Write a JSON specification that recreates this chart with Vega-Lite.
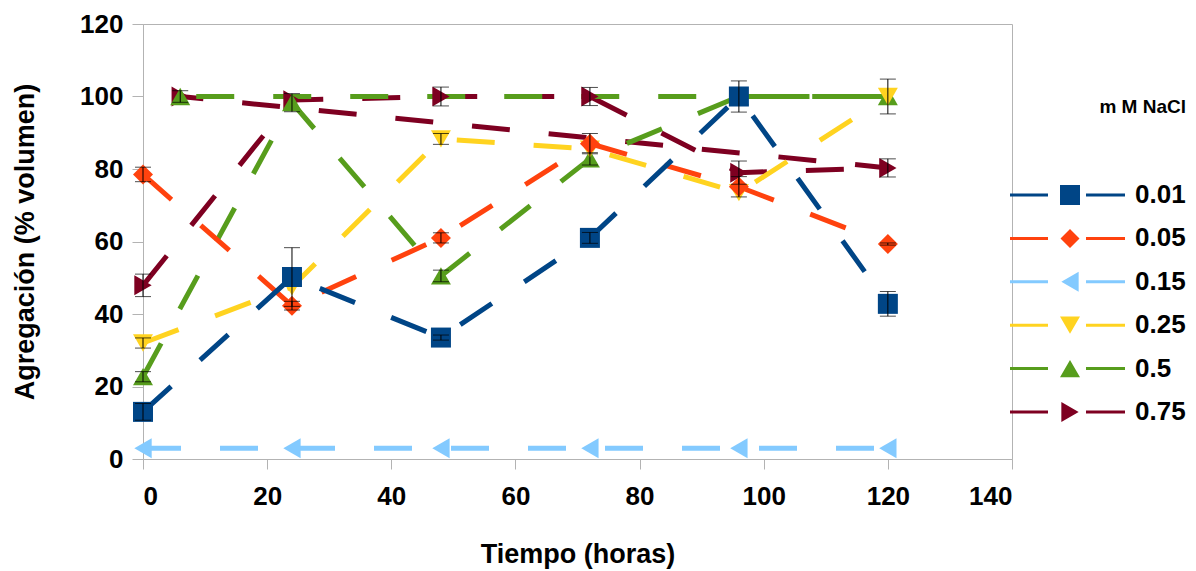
{
  "$schema": "https://vega.github.io/schema/vega-lite/v6.json",
  "autosize": "none",
  "width": 869,
  "height": 435,
  "padding": {"left": 143, "top": 24, "right": 184, "bottom": 112},
  "background": "white",
  "config": {
    "font": "Liberation Sans",
    "view": {"stroke": "#b3b3b3", "strokeWidth": 1},
    "axis": {
      "grid": false,
      "domainColor": "#b3b3b3",
      "tickColor": "#b3b3b3",
      "tickSize": 10,
      "labelFont": "Liberation Sans",
      "labelFontWeight": "bold",
      "labelFontSize": 26,
      "labelColor": "black",
      "titleFont": "Liberation Sans",
      "titleFontWeight": "bold",
      "titleFontSize": 27,
      "titleColor": "black"
    },
    "legend": {
      "orient": "none",
      "legendX": 914,
      "legendY": 74,
      "padding": 0,
      "titleFont": "Liberation Sans",
      "titleFontSize": 19,
      "titleFontWeight": "bold",
      "titleColor": "black",
      "titleAnchor": "end",
      "titlePadding": 65,
      "labelFont": "Liberation Sans",
      "labelFontSize": 26,
      "labelFontWeight": "bold",
      "labelColor": "black",
      "labelOffset": 52,
      "symbolSize": 400,
      "symbolStrokeWidth": 0,
      "symbolOpacity": 1,
      "rowPadding": 17.4
    }
  },
  "data": {
    "values": [
      {"series": "0.75", "t": 0, "v": 47.9, "err": 3.1, "seq": 1},
      {"series": "0.75", "t": 24, "v": 99, "err": null, "seq": 2},
      {"series": "0.75", "t": 48, "v": 100, "err": 2.6, "seq": 3},
      {"series": "0.75", "t": 72, "v": 100, "err": 2.5, "seq": 4},
      {"series": "0.75", "t": 96, "v": 79, "err": 3.2, "seq": 5},
      {"series": "0.75", "t": 120, "v": 80.3, "err": 2.5, "seq": 6},
      {"series": "0.75", "t": 6, "v": 100, "err": null, "seq": 7},
      {"series": "0.5", "t": 0, "v": 22.7, "err": 1.4, "seq": 1},
      {"series": "0.5", "t": 24, "v": 98.3, "err": 2.5, "seq": 2},
      {"series": "0.5", "t": 48, "v": 50.5, "err": 1.6, "seq": 3},
      {"series": "0.5", "t": 72, "v": 82.8, "err": 1.7, "seq": 4},
      {"series": "0.5", "t": 96, "v": 100, "err": null, "seq": 5},
      {"series": "0.5", "t": 120, "v": 100, "err": null, "seq": 6},
      {"series": "0.5", "t": 6, "v": 100, "err": 1.6, "seq": 7},
      {"series": "0.25", "t": 0, "v": 32, "err": 1.4, "seq": 1},
      {"series": "0.25", "t": 24, "v": 47.5, "err": null, "seq": 2},
      {"series": "0.25", "t": 48, "v": 88.3, "err": 1.5, "seq": 3},
      {"series": "0.25", "t": 72, "v": 85.5, "err": null, "seq": 4},
      {"series": "0.25", "t": 96, "v": 73.5, "err": null, "seq": 5},
      {"series": "0.25", "t": 120, "v": 100, "err": 4.8, "seq": 6},
      {"series": "0.15", "t": 0, "v": 3, "err": null, "seq": 1},
      {"series": "0.15", "t": 24, "v": 3, "err": null, "seq": 2},
      {"series": "0.15", "t": 48, "v": 3, "err": null, "seq": 3},
      {"series": "0.15", "t": 72, "v": 3, "err": null, "seq": 4},
      {"series": "0.15", "t": 96, "v": 3, "err": null, "seq": 5},
      {"series": "0.15", "t": 120, "v": 3, "err": null, "seq": 6},
      {"series": "0.05", "t": 0, "v": 78.5, "err": 2, "seq": 1},
      {"series": "0.05", "t": 24, "v": 42.3, "err": 1.2, "seq": 2},
      {"series": "0.05", "t": 48, "v": 61, "err": 1.4, "seq": 3},
      {"series": "0.05", "t": 72, "v": 87, "err": 2.8, "seq": 4},
      {"series": "0.05", "t": 96, "v": 75.1, "err": 2.8, "seq": 5},
      {"series": "0.05", "t": 120, "v": 59.3, "err": 0.3, "seq": 6},
      {"series": "0.01", "t": 0, "v": 13, "err": 2.3, "seq": 1},
      {"series": "0.01", "t": 24, "v": 50.2, "err": 8.1, "seq": 2},
      {"series": "0.01", "t": 48, "v": 33.5, "err": 0.7, "seq": 3},
      {"series": "0.01", "t": 72, "v": 61, "err": 1.5, "seq": 4},
      {"series": "0.01", "t": 96, "v": 100, "err": 4.3, "seq": 5},
      {"series": "0.01", "t": 120, "v": 42.8, "err": 3.4, "seq": 6}
    ]
  },
  "encoding": {
    "x": {
      "field": "t", "type": "quantitative",
      "scale": {"domain": [0, 140], "nice": false, "zero": false},
      "axis": {"values": [0, 20, 40, 60, 80, 100, 120, 140], "title": "Tiempo (horas)", "labelPadding": 14, "titlePadding": 32}
    },
    "y": {
      "field": "v", "type": "quantitative",
      "scale": {"domain": [0, 120], "nice": false},
      "axis": {"values": [0, 20, 40, 60, 80, 100, 120], "title": "Agregación (% volumen)", "tickSize": 11, "labelPadding": 9, "titlePadding": 40}
    }
  },
  "layer": [
    {
      "mark": {"type": "line", "strokeWidth": 5, "strokeDash": [38, 39], "strokeCap": "butt", "strokeJoin": "miter"},
      "encoding": {
        "color": {
          "field": "series", "type": "nominal",
          "scale": {"domain": ["0.01", "0.05", "0.15", "0.25", "0.5", "0.75"], "range": ["#004586", "#ff420e", "#83caff", "#ffd320", "#579d1c", "#7e0021"]},
          "legend": null
        },
        "order": {"field": "seq", "type": "quantitative"}
      }
    },
    {
      "mark": {"type": "point", "filled": true, "opacity": 1, "size": 400, "strokeWidth": 0},
      "encoding": {
        "color": {"field": "series", "type": "nominal", "legend": null},
        "shape": {
          "field": "series", "type": "nominal",
          "scale": {"domain": ["0.01", "0.05", "0.15", "0.25", "0.5", "0.75"], "range": ["square", "diamond", "triangle-left", "triangle-down", "triangle-up", "triangle-right"]},
          "legend": null
        }
      }
    },
    {
      "transform": [{"filter": "isValid(datum.err)"}],
      "mark": {"type": "errorbar", "color": "black", "thickness": 1, "ticks": {"size": 16, "color": "black", "thickness": 1}},
      "encoding": {
        "yError": {"field": "err"}
      }
    },
    {
      "transform": [{"filter": "false"}],
      "mark": {"type": "point", "filled": true, "opacity": 1, "size": 400, "strokeWidth": 0},
      "encoding": {
        "color": {
          "field": "series", "type": "nominal",
          "legend": {"title": "m M NaCl"}
        },
        "shape": {
          "field": "series", "type": "nominal",
          "scale": {
            "domain": ["0.01", "0.05", "0.15", "0.25", "0.5", "0.75"],
            "range": [
              "M-6,-0.15H-2.2V0.15H-6Z M-1,-1H1V1H-1Z M1.6,-0.15H5.5V0.15H1.6Z",
              "M-6,-0.15H-2.2V0.15H-6Z M-0.95,0L0,-0.95L0.95,0L0,0.95Z M1.6,-0.15H5.5V0.15H1.6Z",
              "M-6,-0.15H-2.2V0.15H-6Z M-0.866,0L0.866,-1L0.866,1Z M1.6,-0.15H5.5V0.15H1.6Z",
              "M-6,-0.15H-2.2V0.15H-6Z M-1,-0.866L1,-0.866L0,0.866Z M1.6,-0.15H5.5V0.15H1.6Z",
              "M-6,-0.15H-2.2V0.15H-6Z M0,-0.866L-1,0.866L1,0.866Z M1.6,-0.15H5.5V0.15H1.6Z",
              "M-6,-0.15H-2.2V0.15H-6Z M0.866,0L-0.866,-1L-0.866,1Z M1.6,-0.15H5.5V0.15H1.6Z"
            ]
          },
          "legend": {"title": "m M NaCl"}
        }
      }
    }
  ],
  "resolve": {"scale": {"shape": "independent"}, "legend": {"shape": "independent", "color": "independent"}}
}
